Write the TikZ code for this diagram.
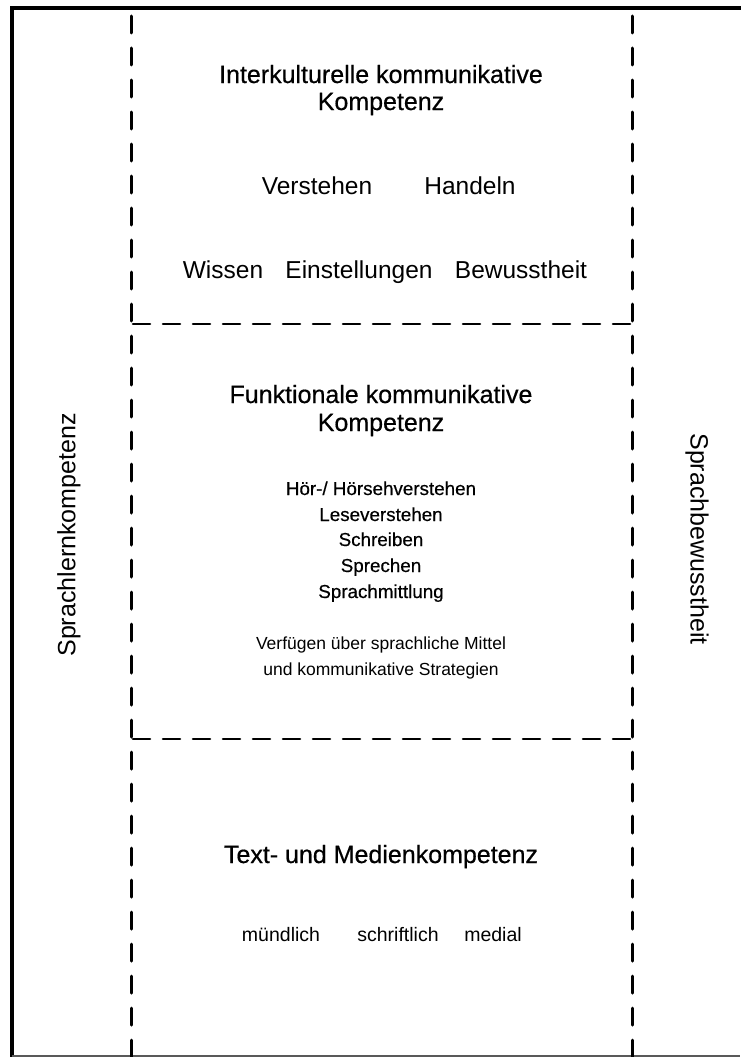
\documentclass[tikz,border=0pt]{standalone}
\usepackage{fontspec}
\setmainfont{Liberation Sans}
\newfontfamily\medfont[FakeBold=0.5]{Liberation Sans}
\tikzset{
  frame/.style={line width=4pt,line cap=rect},
  vdash/.style={line width=3pt,dash pattern=on 17pt off 15pt,line cap=round},
  hdash/.style={line width=2.6pt,dash pattern=on 17pt off 13pt,line cap=round},
  ttl/.style={anchor=base,inner sep=0pt,font=\medfont\fontsize{25}{28}\selectfont},
  txt/.style={anchor=base,inner sep=0pt,font=\fontsize{24.5}{28}\selectfont},
  lst/.style={anchor=base,inner sep=0pt,font=\medfont\fontsize{18.8}{22}\selectfont},
  sml/.style={anchor=base,inner sep=0pt,font=\fontsize{17.5}{22}\selectfont},
  tiny/.style={anchor=base,inner sep=0pt,font=\fontsize{19.5}{22}\selectfont},
  side/.style={inner sep=0pt,font=\fontsize{25}{28}\selectfont},
}
\begin{document}
\begin{tikzpicture}[x=1pt,y=-1pt]
\useasboundingbox (0,0) rectangle (740,1057);
% frame
\draw[frame] (12,1057) -- (12,8) -- (740,8);
\draw[line width=1.5pt,gray!70!black] (12,1056) -- (740,1056);
% dashed dividers
\coordinate (lt) at (131,16);
\coordinate (lb) at (131,1057);
\coordinate (rt) at (632,16);
\coordinate (rb) at (632,1057);
\coordinate (h1l) at (133,324);
\coordinate (h1r) at (630,324);
\coordinate (h2l) at (133,739);
\coordinate (h2r) at (630,739);
\draw[vdash] (lt) -- (lb);
\draw[vdash] (rt) -- (rb);
\draw[hdash] (h1l) -- (h1r);
\draw[hdash] (h2l) -- (h2r);
% top block
\node[ttl] (t1a) at (381,83) {Interkulturelle kommunikative};
\node[ttl] (t1b) at (381,110) {Kompetenz};
\node[txt] (vers) at (317,194) {Verstehen};
\node[txt] (hand) at (470,194) {Handeln};
\node[txt] (wiss) at (223,278) {Wissen};
\node[txt] (eins) at (359,278) {Einstellungen};
\node[txt] (bew) at (521,278) {Bewusstheit};
% middle block
\node[ttl] (t2a) at (381,403) {Funktionale kommunikative};
\node[ttl] (t2b) at (381,431) {Kompetenz};
\node[lst] (l1) at (381,495) {Hör-/ Hörsehverstehen};
\node[lst] (l2) at (381,521) {Leseverstehen};
\node[lst] (l3) at (381,546) {Schreiben};
\node[lst] (l4) at (381,572) {Sprechen};
\node[lst] (l5) at (381,598) {Sprachmittlung};
\node[sml] (v1) at (381,649) {Verfügen über sprachliche Mittel};
\node[sml] (v2) at (381,675) {und kommunikative Strategien};
% bottom block
\node[ttl] (t3) at (381,863) {Text- und Medienkompetenz};
\node[tiny] (m1) at (281,941) {mündlich};
\node[tiny] (m2) at (398,941) {schriftlich};
\node[tiny] (m3) at (493,941) {medial};
% side labels
\node[side,rotate=90] (sl) at (69,535) {Sprachlernkompetenz};
\node[side,rotate=-90] (sb) at (697,539) {Sprachbewusstheit};
\end{tikzpicture}
\end{document}
